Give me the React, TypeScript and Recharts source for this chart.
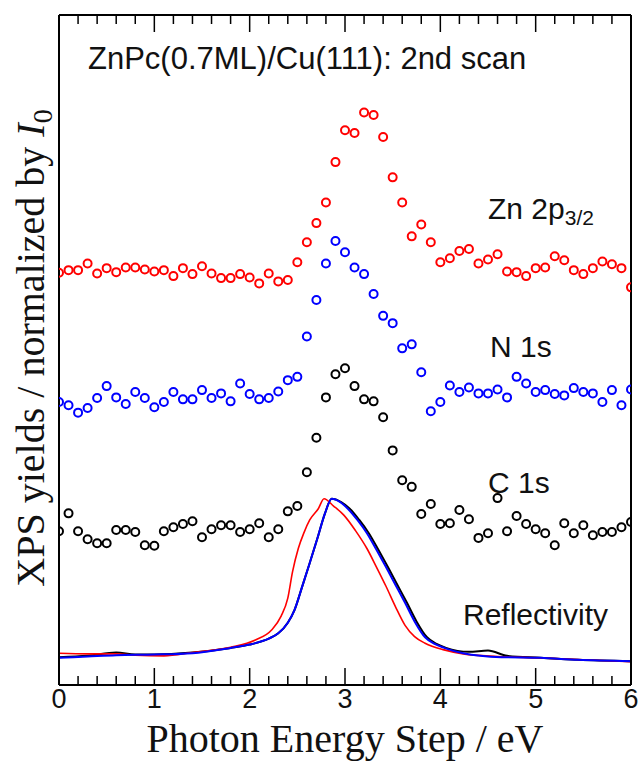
import React from 'react';
import { ComposedChart, Scatter, Line, XAxis, YAxis, Customized } from 'recharts';

// Photon energy steps (eV)
const energies = [
  0, 0.1, 0.2, 0.3, 0.4, 0.5, 0.6, 0.7, 0.8, 0.9,
  1, 1.1, 1.2, 1.3, 1.4, 1.5, 1.6, 1.7, 1.8, 1.9,
  2, 2.1, 2.2, 2.3, 2.4, 2.5, 2.6, 2.7, 2.8, 2.9,
  3, 3.1, 3.2, 3.3, 3.4, 3.5, 3.6, 3.7, 3.8, 3.9,
  4, 4.1, 4.2, 4.3, 4.4, 4.5, 4.6, 4.7, 4.8, 4.9,
  5, 5.1, 5.2, 5.3, 5.4, 5.5, 5.6, 5.7, 5.8, 5.9,
  6,
];

// Zn 2p3/2 (red)
const zn2p = [
  6.16, 6.2, 6.2, 6.3, 6.15, 6.23, 6.17, 6.24, 6.24, 6.21,
  6.18, 6.2, 6.11, 6.23, 6.14, 6.26, 6.15, 6.08, 6.08, 6.14,
  6.09, 6.0, 6.15, 6.03, 6.05, 6.32, 6.62, 6.91, 7.22, 7.83,
  8.31, 8.27, 8.58, 8.54, 8.21, 7.6, 7.22, 6.71, 6.89, 6.62,
  6.32, 6.38, 6.49, 6.52, 6.3, 6.36, 6.44, 6.18, 6.17, 6.11,
  6.23, 6.24, 6.41, 6.35, 6.2, 6.14, 6.23, 6.33, 6.29, 6.23,
  5.94,
];

// N 1s (blue)
const n1s = [
  4.21, 4.16, 4.05, 4.12, 4.27, 4.45, 4.28, 4.18, 4.36, 4.27,
  4.13, 4.21, 4.36, 4.25, 4.25, 4.39, 4.27, 4.34, 4.22, 4.49,
  4.33, 4.25, 4.27, 4.37, 4.54, 4.59, 5.2, 5.75, 6.3, 6.64,
  6.47, 6.24, 6.14, 5.84, 5.51, 5.4, 5.02, 5.08, 4.66, 4.07,
  4.21, 4.46, 4.36, 4.43, 4.34, 4.34, 4.4, 4.28, 4.59, 4.49,
  4.36, 4.39, 4.33, 4.31, 4.42, 4.36, 4.34, 4.21, 4.39, 4.16,
  4.4,
];

// C 1s (black)
const c1s = [
  2.26, 2.53, 2.26, 2.14, 2.08, 2.08, 2.28, 2.28, 2.25, 2.05,
  2.04, 2.26, 2.32, 2.37, 2.41, 2.17, 2.29, 2.35, 2.35, 2.25,
  2.29, 2.38, 2.17, 2.29, 2.56, 2.64, 3.15, 3.67, 4.28, 4.63,
  4.72, 4.45, 4.25, 4.22, 3.98, 3.48, 3.03, 2.93, 2.52, 2.67,
  2.37, 2.38, 2.58, 2.44, 2.16, 2.23, 2.76, 2.26, 2.49, 2.37,
  2.29, 2.23, 2.05, 2.38, 2.23, 2.35, 2.2, 2.25, 2.25, 2.32,
  2.4,
];

// Reflectivity curves
const reflBlackE = [0, 0.3, 0.6, 0.8, 1.0, 1.4, 1.8, 2.0, 2.2, 2.3, 2.4, 2.47, 2.55, 2.63, 2.71, 2.79, 2.86, 2.96, 3.05, 3.15, 3.25, 3.35, 3.45, 3.55, 3.65, 3.75, 3.86, 3.96, 4.06, 4.3, 4.5, 4.7, 5.05, 5.44, 6.0];
const reflBlack = [0.36, 0.38, 0.43, 0.4, 0.4, 0.43, 0.5, 0.55, 0.64, 0.72, 0.88, 1.07, 1.42, 1.78, 2.15, 2.53, 2.75, 2.7, 2.6, 2.43, 2.23, 1.98, 1.72, 1.45, 1.18, 0.9, 0.66, 0.56, 0.5, 0.44, 0.46, 0.38, 0.35, 0.32, 0.3];

const reflRedE = [0, 0.3, 0.6, 0.8, 1.1, 1.4, 1.8, 2.06, 2.23, 2.33, 2.4, 2.45, 2.51, 2.57, 2.63, 2.72, 2.78, 2.88, 2.99, 3.11, 3.23, 3.33, 3.43, 3.53, 3.63, 3.73, 3.84, 4.04, 4.24, 4.6, 5.05, 5.5, 6.0];
const reflRed = [0.42, 0.41, 0.41, 0.39, 0.38, 0.43, 0.51, 0.62, 0.77, 0.98, 1.25, 1.65, 2.0, 2.24, 2.43, 2.6, 2.75, 2.64, 2.5, 2.27, 2.0, 1.72, 1.43, 1.12, 0.84, 0.67, 0.57, 0.47, 0.41, 0.37, 0.35, 0.32, 0.29];

const reflBlueE = [0, 0.3, 0.6, 1.0, 1.4, 1.8, 2.0, 2.2, 2.3, 2.4, 2.47, 2.55, 2.63, 2.71, 2.79, 2.86, 2.95, 3.03, 3.13, 3.23, 3.33, 3.43, 3.53, 3.63, 3.73, 3.84, 3.94, 4.04, 4.24, 4.64, 5.05, 5.44, 6.0];
const reflBlue = [0.35, 0.37, 0.39, 0.4, 0.42, 0.5, 0.55, 0.64, 0.72, 0.88, 1.07, 1.42, 1.78, 2.15, 2.53, 2.75, 2.7, 2.6, 2.43, 2.23, 1.98, 1.72, 1.45, 1.18, 0.9, 0.66, 0.56, 0.5, 0.42, 0.36, 0.35, 0.32, 0.3];

const xTicks = [0, 0.2, 0.4, 0.6, 0.8, 1, 1.2, 1.4, 1.6, 1.8, 2, 2.2, 2.4, 2.6, 2.8, 3, 3.2, 3.4, 3.6, 3.8, 4, 4.2, 4.4, 4.6, 4.8, 5, 5.2, 5.4, 5.6, 5.8, 6];
const majorTicks = [0, 1, 2, 3, 4, 5, 6];

const zip = (xs: number[], ys: number[]) => xs.map((x, i) => ({ x, y: ys[i] }));
const znData = zip(energies, zn2p);
const nData = zip(energies, n1s);
const cData = zip(energies, c1s);
const reflBlackData = zip(reflBlackE, reflBlack);
const reflRedData = zip(reflRedE, reflRed);
const reflBlueData = zip(reflBlueE, reflBlue);

const isMajor = (v: number) => majorTicks.some((m) => Math.abs(m - v) < 1e-6);

const BottomTick = (props: any) => {
  const { x, y, payload } = props;
  const v = payload.value;
  const major = isMajor(v);
  return (
    <g>
      <line x1={x} x2={x} y1={y} y2={y - (major ? 17 : 9)} stroke="#000" strokeWidth={1.5} />
      {major && (
        <text x={x} y={y + 23} textAnchor="middle" fontSize={27} fontFamily="Liberation Sans, Arial, sans-serif" fill="#111">
          {String(Math.round(v))}
        </text>
      )}
    </g>
  );
};

const TopTick = (props: any) => {
  const { x, y, payload } = props;
  const major = isMajor(payload.value);
  return <line x1={x} x2={x} y1={y} y2={y + (major ? 17 : 9)} stroke="#000" strokeWidth={1.5} />;
};

const ring = (color: string) => (p: any) => (
  <circle cx={p.cx} cy={p.cy} r={4} fill="none" stroke={color} strokeWidth={2} />
);

const Annotations = () => (
  <g>
    <g fontFamily="Liberation Sans, Arial, sans-serif" fill="#111">
      <text x={88} y={69} fontSize={31}>ZnPc(0.7ML)/Cu(111): 2nd scan</text>
      <text x={488} y={219} fontSize={30}>
        Zn 2p<tspan fontSize={21} dy={6}>3/2</tspan>
      </text>
      <text x={490} y={357} fontSize={30}>N 1s</text>
      <text x={488} y={493} fontSize={30}>C 1s</text>
      <text x={463} y={625} fontSize={30}>Reflectivity</text>
    </g>
    <g fontFamily="Liberation Serif, Times New Roman, serif" fill="#111">
      <text x={345} y={752} fontSize={40} textAnchor="middle">Photon Energy Step / eV</text>
      <text x={44} y={348} fontSize={40} textAnchor="middle" transform="rotate(-90 44 348)">
        XPS yields / normalized by <tspan fontStyle="italic">I</tspan><tspan fontSize={28} dy={8}>0</tspan>
      </text>
    </g>
  </g>
);

const yDomain: [number, number] = [-0.06, 10.05];
const frame = { stroke: '#000', strokeWidth: 2 };

export default function App() {
  return (
    <div style={{ position: 'absolute', left: 0, top: 0, width: 641, height: 762, background: '#fff' }}>
      <ComposedChart width={641} height={762} margin={{ top: 14, right: 9, bottom: 37, left: 58 }}>
        <XAxis
          xAxisId="b"
          dataKey="x"
          type="number"
          domain={[0, 6]}
          ticks={xTicks}
          interval={0}
          orientation="bottom"
          height={40}
          tickSize={0}
          tickMargin={0}
          tickLine={false}
          axisLine={frame}
          tick={BottomTick}
          allowDataOverflow
        />
        <XAxis
          xAxisId="t"
          dataKey="x"
          type="number"
          domain={[0, 6]}
          ticks={xTicks}
          interval={0}
          orientation="top"
          height={1}
          tickSize={0}
          tickMargin={0}
          tickLine={false}
          axisLine={frame}
          tick={TopTick}
          allowDataOverflow
        />
        <YAxis yAxisId="l" type="number" domain={yDomain} width={1} tick={false} tickLine={false} axisLine={frame} allowDataOverflow />
        <YAxis yAxisId="r" orientation="right" type="number" domain={yDomain} width={1} tick={false} tickLine={false} axisLine={frame} allowDataOverflow />

        <Line xAxisId="b" yAxisId="l" data={reflBlackData} dataKey="y" type="monotone" stroke="#000" strokeWidth={2} dot={false} isAnimationActive={false} />
        <Line xAxisId="b" yAxisId="l" data={reflRedData} dataKey="y" type="monotone" stroke="#ff0000" strokeWidth={1.6} dot={false} isAnimationActive={false} />
        <Line xAxisId="b" yAxisId="l" data={reflBlueData} dataKey="y" type="monotone" stroke="#0000ff" strokeWidth={2} dot={false} isAnimationActive={false} />

        <Scatter xAxisId="b" yAxisId="l" data={znData} dataKey="y" shape={ring('#ff0000')} isAnimationActive={false} />
        <Scatter xAxisId="b" yAxisId="l" data={nData} dataKey="y" shape={ring('#0000ff')} isAnimationActive={false} />
        <Scatter xAxisId="b" yAxisId="l" data={cData} dataKey="y" shape={ring('#000000')} isAnimationActive={false} />

        <Customized component={Annotations} />
      </ComposedChart>
    </div>
  );
}
